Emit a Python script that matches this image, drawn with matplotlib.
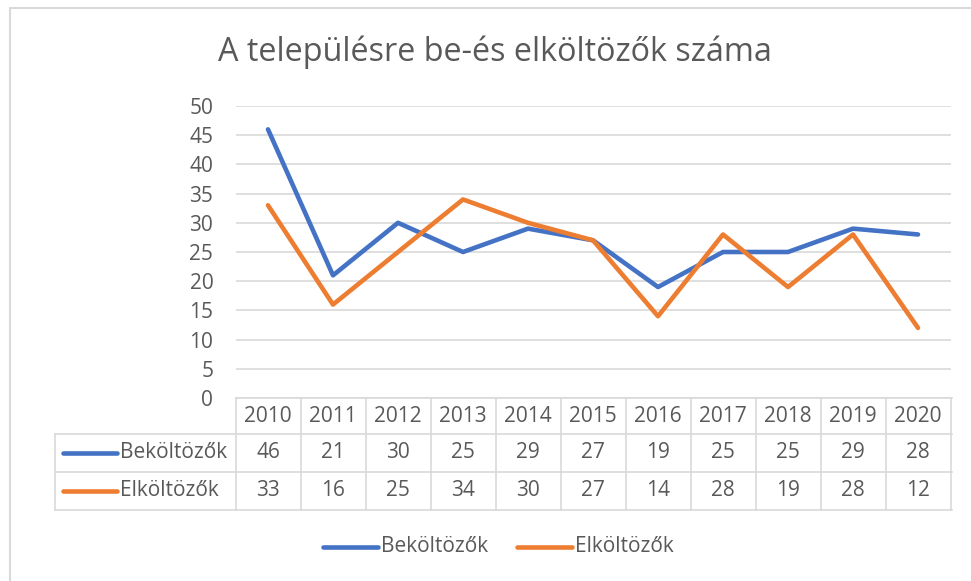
import matplotlib
matplotlib.use("Agg")
import matplotlib.pyplot as plt
from matplotlib.lines import Line2D
from matplotlib.patches import Rectangle
from matplotlib.transforms import blended_transform_factory

# data
years = [2010, 2011, 2012, 2013, 2014, 2015, 2016, 2017, 2018, 2019, 2020]
bekoltozok = [46, 21, 30, 25, 29, 27, 19, 25, 25, 29, 28]
elkoltozok = [33, 16, 25, 34, 30, 27, 14, 28, 19, 28, 12]
series_names = ["Beköltözők", "Elköltözők"]
title = "A településre be-és elköltözők száma"

BLUE = "#4472C4"
ORANGE = "#ED7D31"
GRID = "#D9D9D9"
TEXT = "#595959"
FONT = "Open Sans"
FS = 15

W, H = 971, 581
plt.rcParams["font.family"] = [FONT, "DejaVu Sans"]

fig = plt.figure(figsize=(W / 100, H / 100), dpi=100)


def fx(px):
    return px / W


def fy(py):
    return 1 - py / H


# outer chart frame (runs past the right/bottom edge of the crop)
fig.add_artist(Rectangle((fx(9.5), fy(600)), fx(1000), fy(7.5) - fy(600),
                         transform=fig.transFigure, fill=False,
                         edgecolor=GRID, lw=1.5))

x0, x1 = 235.5, 950.5
ytop, ybot = 106, 398
ax = fig.add_axes([fx(x0), fy(ybot), fx(x1) - fx(x0), fy(ytop) - fy(ybot)])
xs = list(range(len(years)))
ax.plot(xs, bekoltozok, color=BLUE, lw=3.3, solid_capstyle="round", solid_joinstyle="round")
ax.plot(xs, elkoltozok, color=ORANGE, lw=3.3, solid_capstyle="round", solid_joinstyle="round")
ax.set_xlim(-0.5, len(years) - 0.5)
ax.set_ylim(0, 50)
ax.set_yticks(range(0, 51, 5))
ax.set_xticks([])
ax.grid(axis="y", color=GRID, lw=1.2)
ax.set_axisbelow(True)
for s in ax.spines.values():
    s.set_visible(False)
ax.tick_params(axis="y", length=0, pad=16, labelsize=FS, labelcolor=TEXT)

fig.text(fx(495), fy(52), title, ha="center", va="center", fontsize=23.3, color=TEXT)

# data table under the plot
tr = blended_transform_factory(ax.transData, fig.transFigure)
row_y = [398, 434, 472, 510]
tleft = 55
lw_t = 1.2
# horizontal lines
fig.add_artist(Line2D([fx(x0), fx(x1 + 1)], [fy(row_y[0])] * 2, color=GRID, lw=lw_t))
for yy in row_y[1:]:
    fig.add_artist(Line2D([fx(tleft), fx(x1 + 1)], [fy(yy)] * 2, color=GRID, lw=lw_t))
# vertical lines
fig.add_artist(Line2D([fx(tleft)] * 2, [fy(row_y[1]), fy(row_y[3])], color=GRID, lw=lw_t))
for i in range(len(years) + 1):
    ax.add_line(Line2D([i - 0.5] * 2, [fy(row_y[0]), fy(row_y[3])], transform=tr,
                       color=GRID, lw=lw_t, clip_on=False))

for i, yr in enumerate(years):
    ax.text(i, fy((row_y[0] + row_y[1]) / 2), str(yr), transform=tr, ha="center",
            va="center", fontsize=FS, color=TEXT)
    ax.text(i, fy((row_y[1] + row_y[2]) / 2), str(bekoltozok[i]), transform=tr,
            ha="center", va="center", fontsize=FS, color=TEXT)
    ax.text(i, fy((row_y[2] + row_y[3]) / 2), str(elkoltozok[i]), transform=tr,
            ha="center", va="center", fontsize=FS, color=TEXT)

for r, (name, col) in enumerate(zip(series_names, [BLUE, ORANGE])):
    yc = (row_y[r + 1] + row_y[r + 2]) / 2
    fig.add_artist(Line2D([fx(63), fx(117)], [fy(yc)] * 2, color=col, lw=3.3,
                          solid_capstyle="round"))
    fig.text(fx(120), fy(yc), name, ha="left", va="center", fontsize=FS, color=TEXT)

# legend at the bottom
leg_y = 547
for (lx, name, col) in [(323, series_names[0], BLUE), (517, series_names[1], ORANGE)]:
    fig.add_artist(Line2D([fx(lx), fx(lx + 55)], [fy(leg_y)] * 2, color=col, lw=3.3,
                          solid_capstyle="round"))
    fig.text(fx(lx + 58), fy(leg_y), name, ha="left", va="center", fontsize=FS, color=TEXT)

fig.savefig("out.png", dpi=100)
